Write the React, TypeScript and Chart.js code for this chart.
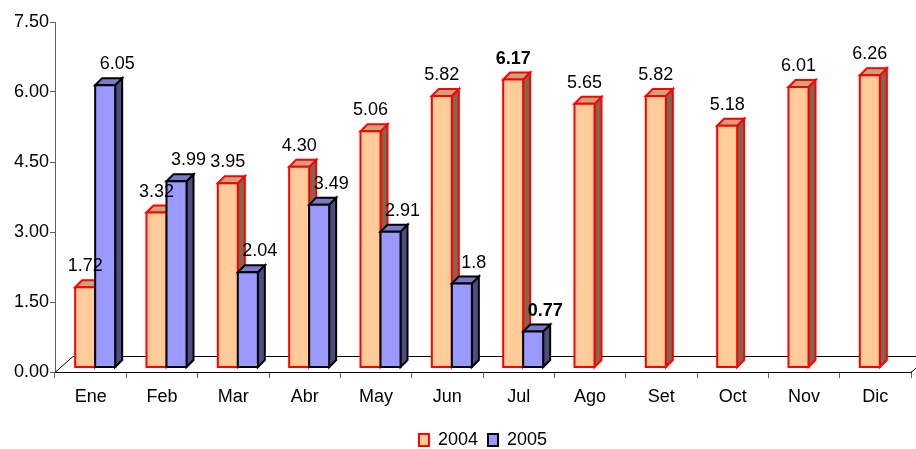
import React, { useEffect, useRef } from 'react';
import { Chart, registerables } from 'chart.js';

Chart.register(...registerables);

const months = ['Ene', 'Feb', 'Mar', 'Abr', 'May', 'Jun', 'Jul', 'Ago', 'Set', 'Oct', 'Nov', 'Dic'];
const values2004 = [1.72, 3.32, 3.95, 4.3, 5.06, 5.82, 6.17, 5.65, 5.82, 5.18, 6.01, 6.26];
const values2005 = [6.05, 3.99, 2.04, 3.49, 2.91, 1.8, 0.77, null, null, null, null, null];
const seriesNames = ['2004', '2005'];
const highlightMonth = 'Jul';
const yMin = 0;
const yMax = 7.5;
const yStep = 1.5;

const FONT = "'Liberation Sans', Arial, sans-serif";

// 3D styling
const DEPTH = 7;
const SHIFT_X = 4.5;
const SHIFT_Y = -4.5;
const FLOOR_DX = 18;
const FLOOR_DY = -16;

const faceColors = [
  { front: '#FFCC99', top: '#CCA37A', side: '#806650', border: '#FF0000', labelDx: 0 },
  { front: '#9999FF', top: '#7A7ACC', side: '#4D4D80', border: '#000000', labelDx: 12 },
];

const formatters = [
  (v: number) => v.toFixed(2),
  (v: number) => String(v),
];

const bar3d = {
  id: 'bar3d',
  beforeDatasetsDraw(chart: any) {
    const ctx: CanvasRenderingContext2D = chart.ctx;
    const area = chart.chartArea;
    ctx.save();

    // floor outline
    ctx.strokeStyle = '#000';
    ctx.lineWidth = 1;
    ctx.beginPath();
    ctx.moveTo(area.left, area.bottom + 0.5);
    ctx.lineTo(area.left + FLOOR_DX, area.bottom + FLOOR_DY + 0.5);
    ctx.lineTo(area.right + FLOOR_DX, area.bottom + FLOOR_DY + 0.5);
    ctx.moveTo(area.right, area.bottom + 0.5);
    ctx.lineTo(area.right + FLOOR_DX, area.bottom + FLOOR_DY + 0.5);
    ctx.stroke();

    const metas = [chart.getDatasetMeta(0), chart.getDatasetMeta(1)];
    const labels: any[] = [];

    for (let i = 0; i < months.length; i++) {
      for (let d = 0; d < metas.length; d++) {
        const raw = chart.data.datasets[d].data[i];
        if (raw === null || raw === undefined) continue;
        const el = metas[d].data[i];
        const c = faceColors[d];
        const w = el.width;
        const cx = el.x + SHIFT_X;
        const L = cx - w / 2;
        const R = cx + w / 2;
        const T = el.y + SHIFT_Y;
        const B = el.base + SHIFT_Y;

        ctx.lineJoin = 'miter';
        ctx.lineWidth = 2;
        ctx.strokeStyle = c.border;

        // side face
        ctx.beginPath();
        ctx.moveTo(R, T);
        ctx.lineTo(R + DEPTH, T - DEPTH);
        ctx.lineTo(R + DEPTH, B - DEPTH);
        ctx.lineTo(R, B);
        ctx.closePath();
        ctx.fillStyle = c.side;
        ctx.fill();
        ctx.stroke();

        // top face
        ctx.beginPath();
        ctx.moveTo(L, T);
        ctx.lineTo(L + DEPTH, T - DEPTH);
        ctx.lineTo(R + DEPTH, T - DEPTH);
        ctx.lineTo(R, T);
        ctx.closePath();
        ctx.fillStyle = c.top;
        ctx.fill();
        ctx.stroke();

        // front face
        ctx.beginPath();
        ctx.rect(L, T, w, B - T);
        ctx.fillStyle = c.front;
        ctx.fill();
        ctx.stroke();

        labels.push({
          text: formatters[d](raw as number),
          x: cx + c.labelDx,
          y: T - 16,
          bold: months[i] === highlightMonth,
        });
      }
    }

    ctx.fillStyle = '#000';
    ctx.textAlign = 'center';
    ctx.textBaseline = 'alphabetic';
    for (const lb of labels) {
      ctx.font = `${lb.bold ? 'bold ' : ''}18px ${FONT}`;
      ctx.fillText(lb.text, lb.x, lb.y);
    }
    ctx.restore();
    return false;
  },
};

export default function App() {
  const ref = useRef<HTMLCanvasElement>(null);

  useEffect(() => {
    const chart = new Chart(ref.current as HTMLCanvasElement, {
      type: 'bar',
      data: {
        labels: months,
        datasets: [
          {
            label: seriesNames[0],
            data: values2004,
            backgroundColor: faceColors[0].front,
            borderColor: faceColors[0].border,
            borderWidth: 2,
          },
          {
            label: seriesNames[1],
            data: values2005 as any,
            backgroundColor: faceColors[1].front,
            borderColor: faceColors[1].border,
            borderWidth: 2,
          },
        ],
      },
      options: {
        responsive: false,
        animation: false,
        devicePixelRatio: 1,
        categoryPercentage: 0.561,
        barPercentage: 1,
        layout: { padding: { top: 22, right: 5, left: 0, bottom: 0 } },
        plugins: {
          tooltip: { enabled: false },
          legend: {
            position: 'bottom',
            fullSize: false,
            labels: {
              boxWidth: 10,
              boxHeight: 12,
              padding: 10,
              color: '#000',
              font: { family: FONT, size: 18 },
            },
          },
        },
        scales: {
          x: {
            grid: {
              display: true,
              drawOnChartArea: false,
              drawTicks: true,
              tickLength: 6,
              color: '#606060',
              offset: true,
            },
            border: { display: true, color: '#000', width: 1 },
            ticks: { color: '#000', font: { family: FONT, size: 18 }, padding: 8 },
            afterFit: (s: any) => {
              s.height = 49;
            },
          },
          y: {
            min: yMin,
            max: yMax,
            ticks: {
              stepSize: yStep,
              callback: (v: any) => Number(v).toFixed(2),
              color: '#000',
              font: { family: FONT, size: 18 },
              padding: 1,
            },
            grid: { drawOnChartArea: false, tickLength: 5, color: '#606060' },
            border: { color: '#606060' },
            afterFit: (s: any) => {
              s.width = 55;
            },
          },
        },
      } as any,
      plugins: [bar3d],
    });
    return () => chart.destroy();
  }, []);

  return (
    <div
      style={{
        position: 'fixed',
        left: 0,
        top: 0,
        width: 916,
        height: 449,
        overflow: 'hidden',
        background: '#fff',
      }}
    >
      <canvas ref={ref} width={916} height={459} style={{ display: 'block', width: 916, height: 459 }} />
    </div>
  );
}
